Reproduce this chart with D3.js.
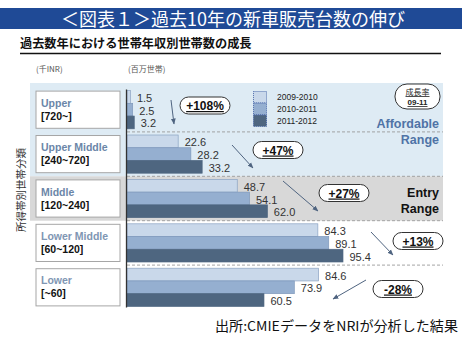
<!DOCTYPE html>
<html><head><meta charset="utf-8">
<script src="https://cdn.jsdelivr.net/npm/d3@7/dist/d3.min.js"></script>
<style>
html,body{margin:0;padding:0;background:#fff;}
svg{display:block;font-family:Arial,"Liberation Sans",sans-serif;}
</style>
</head><body>
<svg id="c" width="465" height="343"></svg>
<script>
const categories = ["Upper","Upper Middle","Middle","Lower Middle","Lower"];
const ranges = ["[720~]","[240~720]","[120~240]","[60~120]","[~60]"];
const seriesNames = ["2009-2010","2010-2011","2011-2012"];
const v0910 = [1.5,22.6,48.7,84.3,84.6];
const v1011 = [2.5,28.2,54.1,89.1,73.9];
const v1112 = [3.2,33.2,62.0,95.4,60.5];
const growth = ["+108%","+47%","+27%","+13%","-28%"];

const colors = ["#c9d8ea","#95afd0","#4e6680"];
const strokes = ["#8aa2c2","#7e98bb","#4e6680"];
const seriesVals = [v0910, v1011, v1112];

const svg = d3.select("#c");
const JP = "'Noto Sans CJK JP','Noto Sans',sans-serif";

// title bar
svg.append("rect").attr("x",0).attr("y",8).attr("width",462).attr("height",21).attr("fill","#1f4a96");
svg.append("text").attr("x",233).attr("y",25.5).attr("text-anchor","middle")
  .attr("fill","#fff").attr("font-family",JP).attr("font-size",18)
  .text("＜図表１＞過去10年の新車販売台数の伸び");

// subtitle
svg.append("text").attr("x",20).attr("y",48).attr("font-family",JP).attr("font-size",12.2)
  .attr("font-weight","bold").attr("fill","#111").text("過去数年における世帯年収別世帯数の成長");
svg.append("line").attr("x1",20).attr("x2",441).attr("y1",53.5).attr("y2",53.5)
  .attr("stroke","#111").attr("stroke-width",1.3);

svg.append("text").attr("x",36).attr("y",72).attr("font-family",JP).attr("font-size",8)
  .attr("fill","#555").text("(千INR)");
svg.append("text").attr("x",128).attr("y",72).attr("font-family",JP).attr("font-size",8)
  .attr("fill","#555").text("(百万世帯)");

// scales
const y0 = d3.scaleBand().domain(categories).range([87.5,309.5]).paddingInner(0.14).paddingOuter(0.07);
const y1 = d3.scaleBand().domain(seriesNames).range([0,y0.bandwidth()]);
const x = d3.scaleLinear().domain([0,100]).range([127,353.4]);
const gap = y0.step()-y0.bandwidth();

// background panels
const sepY = i => y0(categories[i]) - gap/2;
svg.append("rect").attr("x",30).attr("y",83).attr("width",413).attr("height",sepY(2)-83).attr("fill","#deebf4");
svg.append("rect").attr("x",30).attr("y",sepY(2)).attr("width",413).attr("height",sepY(3)-sepY(2)).attr("fill","#d8d8d8");

// separators
for(let i=1;i<categories.length;i++){
  svg.append("line").attr("x1",127).attr("x2",443).attr("y1",sepY(i)).attr("y2",sepY(i))
    .attr("stroke","#9a9a9a").attr("stroke-width",0.9).attr("stroke-dasharray","3,2");
}

// left label boxes
const boxG = svg.append("g");
categories.forEach((c,i)=>{
  const top = y0(c)+0.5, h = y0.bandwidth()-1;
  boxG.append("rect").attr("x",36).attr("y",top).attr("width",84).attr("height",h)
    .attr("fill","#fff").attr("stroke","#a6a6a6").attr("stroke-width",1);
  boxG.append("text").attr("x",41).attr("y",top+h/2-3).attr("font-size",10.5).attr("font-weight","bold")
    .attr("fill", i>=3 ? "#8096b3" : "#6b86a8").text(c);
  boxG.append("text").attr("x",41).attr("y",top+h/2+10).attr("font-size",10.5).attr("font-weight","bold")
    .attr("fill","#111").text(ranges[i]);
});

// vertical axis label
svg.append("text").attr("transform","translate(25,190) rotate(-90)").attr("text-anchor","middle")
  .attr("font-family",JP).attr("font-size",10.5).attr("fill","#333").text("所得帯別世帯分類");

// bars
const data = [];
categories.forEach((c,i)=>seriesNames.forEach((s,j)=>data.push({c,s,j,v:seriesVals[j][i]})));
const bars = svg.append("g");
bars.selectAll("rect").data(data).join("rect")
  .attr("x",x(0)).attr("y",d=>y0(d.c)+y1(d.s)).attr("width",d=>x(d.v)-x(0)).attr("height",y1.bandwidth())
  .attr("fill",d=>colors[d.j]).attr("stroke",d=>strokes[d.j]).attr("stroke-width",0.7);
bars.selectAll("text").data(data).join("text")
  .attr("x",d=>x(d.v)+6.5).attr("y",d=>y0(d.c)+y1(d.s)+y1.bandwidth()/2+5)
  .attr("font-size",11).attr("fill","#333").text(d=>d.v.toFixed(1));

// axis line
const axis = d3.axisLeft(y0).tickSize(0).tickFormat("");
svg.append("g").attr("transform","translate(126.5,0)").call(axis)
  .call(g=>g.select(".domain").attr("stroke","#333").attr("stroke-width",1.3)
    .attr("d",`M0,${y0.range()[0]+2}V${y0.range()[1]-2}`));

// arrows
const defs = svg.append("defs");
defs.append("marker").attr("id","ah").attr("viewBox","0 0 10 10").attr("refX",9).attr("refY",5)
  .attr("markerWidth",6).attr("markerHeight",6).attr("orient","auto")
  .append("path").attr("d","M0,1 L10,5 L0,9 Z").attr("fill","#4f6480");
const arrows = [[171,100,174,124],[232,145,253,168],[283,181,318,211],[371,232,393,255],[366,280,333,299]];
arrows.forEach(a=>{
  svg.append("line").attr("x1",a[0]).attr("y1",a[1]).attr("x2",a[2]).attr("y2",a[3])
    .attr("stroke","#4f6480").attr("stroke-width",1).attr("marker-end","url(#ah)");
});

// growth ovals
const ovals = [[205,105.5],[278,150],[344,193],[418,241],[398,289]];
growth.forEach((g,i)=>{
  const [cx,cy]=ovals[i];
  svg.append("rect").attr("x",cx-25).attr("y",cy-8.5).attr("width",50).attr("height",17).attr("rx",8.5)
    .attr("fill","#fff").attr("stroke","#333").attr("stroke-width",1);
  svg.append("text").attr("x",cx).attr("y",cy+4.5).attr("text-anchor","middle")
    .attr("font-size",12).attr("font-weight","bold").attr("fill","#111")
    .attr("text-decoration","underline").text(g);
});

// legend
const lg = svg.append("g");
seriesNames.forEach((s,j)=>{
  lg.append("rect").attr("x",253.5).attr("y",91.5+j*11.8).attr("width",13).attr("height",11.3)
    .attr("fill",colors[j]).attr("stroke","#2c4f9a").attr("stroke-width",0.8).attr("stroke-dasharray","1,1");
  lg.append("text").attr("x",277).attr("y",100+j*12).attr("font-size",8.5).attr("fill","#222").text(s);
});

// 成長率 oval
svg.append("rect").attr("x",395).attr("y",84).attr("width",45).attr("height",25).attr("rx",12)
  .attr("fill","#fff").attr("stroke","#333").attr("stroke-width",1);
svg.append("text").attr("x",417.5).attr("y",95).attr("text-anchor","middle").attr("font-family",JP)
  .attr("font-size",8).attr("fill","#222").attr("text-decoration","underline").text("成長率");
svg.append("text").attr("x",417.5).attr("y",105).attr("text-anchor","middle")
  .attr("font-size",8).attr("font-weight","bold").attr("fill","#222").attr("text-decoration","underline").text("09-11");

// range labels
svg.append("text").attr("x",439).attr("y",128).attr("text-anchor","end").attr("font-size",12.5)
  .attr("font-weight","bold").attr("fill","#4f73a6").text("Affordable");
svg.append("text").attr("x",439).attr("y",144).attr("text-anchor","end").attr("font-size",12.5)
  .attr("font-weight","bold").attr("fill","#4f73a6").text("Range");
svg.append("text").attr("x",439).attr("y",197).attr("text-anchor","end").attr("font-size",12.5)
  .attr("font-weight","bold").attr("fill","#111").text("Entry");
svg.append("text").attr("x",439).attr("y",213).attr("text-anchor","end").attr("font-size",12.5)
  .attr("font-weight","bold").attr("fill","#111").text("Range");

// footer
svg.append("text").attr("x",215).attr("y",331).attr("font-family",JP).attr("font-size",13.5)
  .attr("fill","#111").attr("textLength",243).attr("lengthAdjust","spacingAndGlyphs")
  .text("出所:CMIEデータをNRIが分析した結果");
</script>
</body></html>
